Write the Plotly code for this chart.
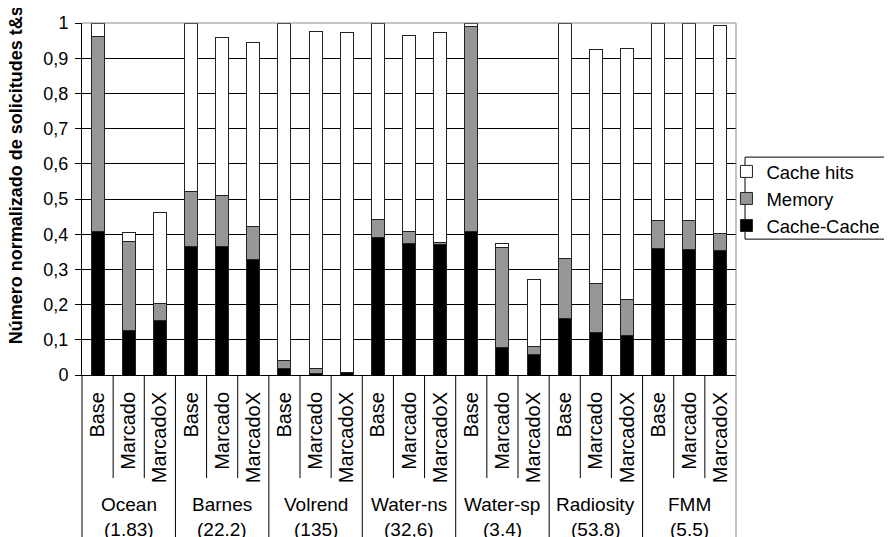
import plotly.graph_objects as go

group_names = ["Ocean", "Barnes", "Volrend", "Water-ns", "Water-sp", "Radiosity", "FMM"]
group_sizes = ["(1.83)", "(22.2)", "(135)", "(32,6)", "(3.4)", "(53.8)", "(5.5)"]
variants = ["Base", "Marcado", "MarcadoX"]

cache_cache = [0.407, 0.126, 0.155,
               0.366, 0.365, 0.329,
               0.018, 0.005, 0.006,
               0.391, 0.373, 0.371,
               0.407, 0.077, 0.057,
               0.161, 0.120, 0.113,
               0.360, 0.357, 0.355]
memory = [0.555, 0.252, 0.049,
          0.156, 0.146, 0.094,
          0.024, 0.014, 0.002,
          0.051, 0.034, 0.006,
          0.583, 0.284, 0.024,
          0.169, 0.139, 0.102,
          0.078, 0.081, 0.047]
cache_hits = [0.038, 0.026, 0.257,
              0.478, 0.447, 0.523,
              0.958, 0.956, 0.964,
              0.558, 0.557, 0.595,
              0.010, 0.013, 0.191,
              0.670, 0.667, 0.712,
              0.562, 0.560, 0.590]

y_ticks = [i / 10 for i in range(11)]

FONT = "Liberation Sans, Arial, sans-serif"
n = len(group_names) * len(variants)
xs = list(range(n))
labels = [v for g in group_names for v in variants]

fig = go.Figure()
line = dict(color="#222222", width=1)
fig.add_bar(x=xs, y=cache_cache, name="Cache-Cache", marker=dict(color="#000000", line=line))
fig.add_bar(x=xs, y=memory, name="Memory", marker=dict(color="#969696", line=line))
fig.add_bar(x=xs, y=cache_hits, name="Cache hits", marker=dict(color="#ffffff", line=line))

shapes = []
# separators below the axis
for i in range(n + 1):
    xp = i / n
    is_group = (i % len(variants) == 0)
    color = "#888888" if i == n else "#000000"
    shapes.append(dict(type="line", xref="paper", yref="paper", x0=xp, x1=xp,
                       y0=0, y1=(-0.6 if is_group else -0.293),
                       line=dict(color=color, width=1)))
# top/right frame in grey
shapes.append(dict(type="line", xref="paper", yref="paper", x0=0, x1=1, y0=1, y1=1,
                   line=dict(color="#888888", width=1), layer="above"))
shapes.append(dict(type="line", xref="paper", yref="paper", x0=1, x1=1, y0=0, y1=1,
                   line=dict(color="#888888", width=1), layer="above"))
# legend frame
shapes.append(dict(type="rect", xref="paper", yref="paper", x0=1.0138, x1=1.30,
                   y0=0.386, y1=0.619, line=dict(color="#000000", width=1),
                   fillcolor="rgba(0,0,0,0)", layer="above"))

annotations = []
for gi in range(len(group_names)):
    xc = gi * len(variants) + 1
    annotations.append(dict(x=xc, xref="x", y=-0.369, yref="paper",
                            text=group_names[gi], showarrow=False, xanchor="center", yanchor="middle",
                            font=dict(family=FONT, size=19, color="#000000")))
    annotations.append(dict(x=xc, xref="x", y=-0.44, yref="paper",
                            text=group_sizes[gi], showarrow=False, xanchor="center", yanchor="middle",
                            font=dict(family=FONT, size=19, color="#000000")))
annotations.append(dict(x=-0.101, xref="paper", y=0.567, yref="paper",
                        text="<b>Número normalizado de solicitudes t&s</b>", textangle=-90,
                        showarrow=False, xanchor="center", yanchor="middle",
                        font=dict(family=FONT, size=18, color="#000000")))

fig.update_layout(
    width=884, height=529,
    barmode="stack", bargap=0.58,
    separators=",.",
    plot_bgcolor="#ffffff", paper_bgcolor="#ffffff",
    margin=dict(l=74, r=156, t=15, b=162, pad=0, autoexpand=False),
    font=dict(family=FONT, size=19, color="#000000"),
    xaxis=dict(range=[-0.5, n - 0.5], tickmode="array", tickvals=xs, ticktext=labels,
               tickangle=-90, ticks="", showgrid=False, zeroline=False,
               showline=True, linecolor="#000000", linewidth=1,
               ticklabelstandoff=8, automargin=False,
               tickfont=dict(family=FONT, size=20, color="#000000")),
    yaxis=dict(range=[0, 1], tickmode="array", tickvals=y_ticks,
               showgrid=True, gridcolor="#000000", gridwidth=1, zeroline=False,
               showline=True, linecolor="#000000", linewidth=1,
               ticks="outside", ticklen=6, tickcolor="#000000", automargin=False,
               ticklabelstandoff=3,
               tickfont=dict(family=FONT, size=18, color="#000000")),
    legend=dict(x=0.9854, y=0.631, xanchor="left", yanchor="top",
                traceorder="reversed", borderwidth=0,
                bgcolor="rgba(0,0,0,0)", font=dict(family=FONT, size=18.5, color="#000000"),
                itemwidth=30, tracegroupgap=0),
    showlegend=True,
    shapes=shapes,
    annotations=annotations,
)

fig.write_html("out.html")
